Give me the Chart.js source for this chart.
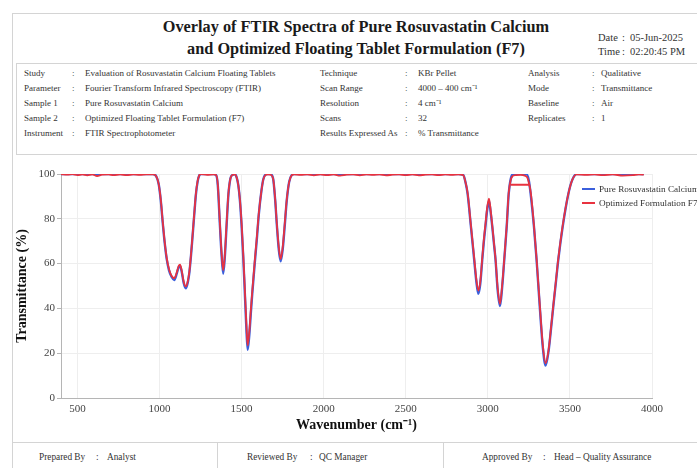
<!DOCTYPE html>
<html>
<head>
<meta charset="utf-8">
<title>FTIR Overlay</title>
<script src="https://cdn.jsdelivr.net/npm/chart.js@4.4.1/dist/chart.umd.min.js"></script>
<style>
html, body { margin: 0; padding: 0; background: #fff; width: 697px; height: 468px; overflow: hidden; }
body { position: relative; font-family: "Liberation Serif", "Times New Roman", serif; color: #333; }
.a { position: absolute; white-space: nowrap; line-height: 1; }
.box { position: absolute; border: 1px solid #d4d4d4; }
.title { left: 56px; width: 600px; text-align: center; font-weight: bold; font-size: 16.3px; color: #1a1a1a; }
.info { font-size: 9px; color: #333; }
.dt { font-size: 10.5px; color: #333; }
.foot { font-size: 9.3px; color: #333; }
.lg { font-size: 9.2px; color: #333; }
.sw { position: absolute; height: 2px; width: 13px; }
#chartWrap { position: absolute; left: 0; top: 160px; width: 697px; height: 282px; }
</style>
</head>
<body>

<div class="box" style="left:12px; top:13px; width:720px; height:470px;"></div>
<div class="box" style="left:16px; top:63px; width:720px; height:90px;"></div>
<div class="box" style="left:12px; top:442px; width:720px; height:40px; border-bottom:none;"></div>
<div class="box" style="left:217px; top:442px; width:0; height:30px; border-width:0 0 0 1px;"></div>
<div class="box" style="left:443px; top:442px; width:0; height:30px; border-width:0 0 0 1px;"></div>

<div class="a title" style="top:19px;">Overlay of FTIR Spectra of Pure Rosuvastatin Calcium</div>
<div class="a title" style="top:41px;">and Optimized Floating Tablet Formulation (F7)</div>

<div class="a dt" style="left:598px; top:33px;">Date</div>
<div class="a dt" style="left:622px; top:33px;">:</div>
<div class="a dt" style="left:630px; top:33px;">05-Jun-2025</div>
<div class="a dt" style="left:598px; top:47px;">Time</div>
<div class="a dt" style="left:622px; top:47px;">:</div>
<div class="a dt" style="left:630px; top:47px;">02:20:45 PM</div>

<div id="info"></div>

<div id="chartWrap"><canvas id="ftirChart" width="697" height="282"></canvas></div>

<div class="sw" style="left:582px; top:188px; background:#3b5fdc;"></div>
<div class="a lg" style="left:599px; top:185px;">Pure Rosuvastatin Calcium</div>
<div class="sw" style="left:582px; top:202px; background:#e8323f;"></div>
<div class="a lg" style="left:599px; top:199px;">Optimized Formulation F7</div>

<div class="a foot" style="left:39px; top:453px;">Prepared By</div>
<div class="a foot" style="left:96px; top:453px;">:</div>
<div class="a foot" style="left:107px; top:453px;">Analyst</div>
<div class="a foot" style="left:247px; top:453px;">Reviewed By</div>
<div class="a foot" style="left:310px; top:453px;">:</div>
<div class="a foot" style="left:319px; top:453px;">QC Manager</div>
<div class="a foot" style="left:482px; top:453px;">Approved By</div>
<div class="a foot" style="left:543px; top:453px;">:</div>
<div class="a foot" style="left:554px; top:453px;">Head – Quality Assurance</div>

<script>
// header table
const infoCol1 = [['Study', 'Evaluation of Rosuvastatin Calcium Floating Tablets'],
                  ['Parameter', 'Fourier Transform Infrared Spectroscopy (FTIR)'],
                  ['Sample 1', 'Pure Rosuvastatin Calcium'],
                  ['Sample 2', 'Optimized Floating Tablet Formulation (F7)'],
                  ['Instrument', 'FTIR Spectrophotometer']];
const infoCol2 = [['Technique', 'KBr Pellet'],
                  ['Scan Range', '4000 – 400 cm⁻¹'],
                  ['Resolution', '4 cm⁻¹'],
                  ['Scans', '32'],
                  ['Results Expressed As', '% Transmittance']];
const infoCol3 = [['Analysis', 'Qualitative'],
                  ['Mode', 'Transmittance'],
                  ['Baseline', 'Air'],
                  ['Replicates', '1']];

// spectra (wavenumber cm-1, % transmittance)
const pureWn = [400, 960, 980, 995, 1008, 1020, 1032, 1044, 1058, 1074, 1090, 1105, 1117, 1125, 1135, 1147, 1160, 1172, 1182, 1190, 1198, 1206, 1214, 1222, 1232, 1242, 1252,
  1330, 1345, 1355, 1368, 1378, 1388, 1398, 1408, 1420, 1432, 1445, 1458, 1470, 1480, 1490, 1500, 1510, 1518, 1528, 1537, 1548, 1557, 1565, 1580, 1592, 1605, 1620, 1632, 1645, 1660,
  1675, 1692, 1705, 1715, 1727, 1738, 1750, 1762, 1775, 1790, 1805, 1820,
  2820, 2850, 2865, 2877, 2897, 2917, 2930, 2942, 2954, 2966, 2976, 2986, 2996, 3007, 3017, 3027, 3037, 3047, 3060, 3074, 3088, 3100, 3115, 3127, 3140, 3155,
  3235, 3250, 3261, 3281, 3297, 3318, 3335, 3352, 3370, 3385, 3399, 3415, 3429, 3456, 3490, 3515, 3541, 3950];
const pureT = [100, 100, 99, 95.5, 88, 78, 69, 62, 57, 54, 52.7, 55.5, 58.5, 59, 56.5, 51.5, 49, 51.5, 56, 62, 69, 76.5, 84, 91, 96.5, 99.3, 100,
  100, 99.5, 95, 77, 64, 55.5, 63, 76, 91, 98, 99.6, 100, 98.5, 95, 88, 77, 63, 50, 33, 21.5, 29, 38.5, 46.5, 60, 70, 82, 92, 97.5, 99.7, 100,
  100, 98, 88, 77, 66, 61, 66, 76, 88, 96.5, 99.5, 100,
  100, 99.6, 96, 91, 76.5, 61.6, 52, 46.5, 51, 61.6, 70, 77, 84, 88, 83, 76.5, 69, 61.6, 48, 41, 50, 61.6, 76.5, 91, 98, 100,
  100, 97, 91, 76.5, 61.6, 39, 22.5, 14.5, 21, 31, 41, 52, 61.6, 76.5, 91, 97.5, 100, 100];

// F7 trace; null splits off the flat 95 % segment drawn across the 3200 band
const f7Wn = [400, 440, 470, 500, 530, 560, 590, 620, 650, 690, 720, 760, 800, 840, 880, 920, 960,
  980, 995, 1008, 1020, 1032, 1044, 1058, 1074, 1090, 1105, 1117, 1125, 1135, 1147, 1160, 1172, 1182, 1190, 1198, 1206, 1214, 1222, 1232, 1242, 1252,
  1290, 1330, 1345, 1355, 1368, 1378, 1388, 1398, 1408, 1420, 1432, 1445, 1458, 1470, 1480, 1490, 1500, 1510, 1518, 1528, 1537, 1548, 1557, 1565, 1580, 1592, 1605, 1620, 1632, 1645, 1660,
  1675, 1692, 1705, 1715, 1727, 1738, 1750, 1762, 1775, 1790, 1805, 1820,
  1860, 1900, 1940, 1980, 2020, 2060, 2100, 2140, 2180, 2220, 2260, 2300, 2340, 2380, 2420, 2460, 2500, 2540, 2580, 2620, 2660, 2700, 2740, 2780, 2820,
  2850, 2865, 2877, 2897, 2917, 2930, 2942, 2954, 2966, 2976, 2986, 2996, 3007, 3017, 3027, 3037, 3047, 3060, 3074, 3088, 3100, 3115, 3127, 3140, 3150,
  3170, 3200, 3225, 3240, 3252, 3262, 3281, 3297, 3318, 3335, 3352, 3370, 3385, 3399, 3415, 3429, 3456, 3490, 3515, 3541,
  3600, 3650, 3700, 3760, 3822, 3883, 3920, 3950,
  3951, 3140, 3252];
const f7T = [100, 99.7, 99.9, 99.5, 99.8, 99.4, 99.8, 99.1, 99.7, 99.8, 99.5, 99.8, 99.5, 99.8, 99.6, 99.8, 99.8,
  99, 95.5, 88.5, 78.5, 69.5, 62.5, 57.5, 54.5, 53.5, 56, 59, 59.5, 57, 52, 49.8, 52, 56.5, 62.5, 69.5, 77, 84.5, 91.5, 96.8, 99.4, 100,
  99.6, 99.8, 99.5, 95.5, 78, 65, 57, 64, 77, 91.5, 98, 99.6, 99.8, 98.5, 95, 88.5, 78, 64.5, 51.5, 35, 23.5, 30.5, 40, 47.5, 61, 71, 82.5, 92, 97.5, 99.5, 99.8,
  99.7, 98, 88.5, 77.5, 67, 62, 67, 77, 88.5, 96.5, 99.4, 99.8,
  99.6, 99.8, 99.4, 99.8, 99.5, 99.8, 99.3, 99.7, 99.8, 99.4, 99.8, 99.6, 99.8, 99.4, 99.7, 99.8, 99.5, 99.8, 99.4, 99.7, 99.8, 99.5, 99.8, 99.6, 99.8,
  99.5, 96, 91.5, 77, 62.5, 53, 48, 52, 62.5, 71, 78, 85, 89, 84, 77, 69.5, 62, 49, 42, 51, 62, 77, 91.5, 97.5, 99,
  99.5, 99.6, 99.3, 98.5, 95.5, 91.5, 77, 62, 40, 23.5, 15.5, 21.5, 31.5, 41.5, 52.5, 62, 77, 91, 97.5, 99.8,
  99.6, 99.8, 99.5, 99.8, 99.3, 99.5, 99.8, 99.7,
  null, 95.2, 95.2];

const xMin = 400, xMax = 4000;
const xTicks = [500, 1000, 1500, 2000, 2500, 3000, 3500, 4000];
const yMin = 0, yMax = 100;

function build(wn, t) {
  return wn.map((x, i) => ({ x: x, y: t[i] }));
}

function infoRows(rows, xl, xc, xv) {
  const rowY = [69, 84, 99, 114, 129];
  let html = '';
  rows.forEach((r, i) => {
    html += `<div class="a info" style="left:${xl}px; top:${rowY[i]}px;">${r[0]}</div>`;
    html += `<div class="a info" style="left:${xc}px; top:${rowY[i]}px;">:</div>`;
    html += `<div class="a info" style="left:${xv}px; top:${rowY[i]}px;">${r[1]}</div>`;
  });
  return html;
}
document.getElementById('info').innerHTML =
  infoRows(infoCol1, 24, 72, 85) + infoRows(infoCol2, 320, 405, 418) + infoRows(infoCol3, 528, 592, 601);

const serif = '"Liberation Serif", "Times New Roman", serif';
const ctx = document.getElementById('ftirChart').getContext('2d');

new Chart(ctx, {
  type: 'line',
  data: {
    datasets: [
      {
        label: 'Optimized Formulation F7',
        data: build(f7Wn, f7T),
        borderColor: '#e8323f',
        borderWidth: 1.8,
        pointRadius: 0,
        fill: false,
        spanGaps: false,
        cubicInterpolationMode: 'monotone'
      },
      {
        label: 'Pure Rosuvastatin Calcium',
        data: build(pureWn, pureT),
        borderColor: '#3b5fdc',
        borderWidth: 2.4,
        pointRadius: 0,
        fill: false,
        cubicInterpolationMode: 'monotone'
      }
    ]
  },
  options: {
    responsive: false,
    animation: false,
    devicePixelRatio: 1,
    layout: { padding: { top: 14, right: 45, left: 0, bottom: 0 } },
    plugins: {
      legend: { display: false },
      tooltip: { enabled: false }
    },
    scales: {
      x: {
        type: 'linear',
        min: xMin,
        max: xMax,
        afterFit: s => { s.height = 44; },
        afterBuildTicks: s => { s.ticks = xTicks.map(v => ({ value: v })); },
        ticks: {
          padding: 5,
          color: '#444',
          font: { family: serif, size: 11 },
          callback: v => String(v)
        },
        grid: { color: '#eeeeee', drawTicks: false },
        border: { color: '#b5b5b5' },
        title: {
          display: true,
          text: 'Wavenumber (cm⁻¹)',
          color: '#111',
          font: { family: serif, size: 14, weight: 'bold' },
          padding: { top: 0, bottom: 8 }
        }
      },
      y: {
        min: yMin,
        max: yMax,
        afterFit: s => { s.width = 61; },
        ticks: {
          stepSize: 20,
          padding: 2,
          color: '#444',
          font: { family: serif, size: 11 }
        },
        grid: { color: '#eeeeee', tickLength: 4, tickColor: '#b5b5b5' },
        border: { color: '#b5b5b5' },
        title: {
          display: true,
          text: 'Transmittance (%)',
          color: '#111',
          font: { family: serif, size: 14, weight: 'bold' },
          padding: { top: 13.5, bottom: 0 }
        }
      }
    }
  }
});
</script>
</body>
</html>
